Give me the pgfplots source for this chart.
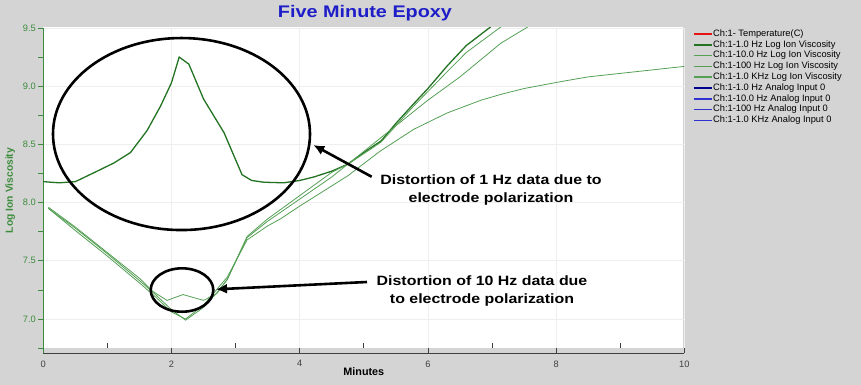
\documentclass[border=0pt]{standalone}
\usepackage{fontspec}
\setmainfont{Liberation Sans}
\newfontfamily\widefont{Liberation Sans}[FakeStretch=1.18]
\usepackage{pgfplots}
\usepackage{pgfplotstable}
\pgfplotsset{compat=1.18}
\usetikzlibrary{arrows.meta}
\definecolor{bg}{RGB}{212,212,212}
\definecolor{titleblue}{RGB}{30,30,200}
\definecolor{dkgreen}{RGB}{35,115,35}
\definecolor{ltgreen}{RGB}{85,160,85}
\definecolor{labgreen}{RGB}{60,140,60}
\definecolor{gridc}{RGB}{238,238,238}
\definecolor{dkblue}{RGB}{0,0,140}
\definecolor{ltblue}{RGB}{50,50,210}
\definecolor{legred}{RGB}{230,20,20}

\pgfplotstableread{
x y
0.00 8.18
0.25 8.17
0.50 8.18
0.84 8.27
1.10 8.34
1.36 8.43
1.62 8.62
1.83 8.83
2.00 9.03
2.12 9.25
2.27 9.19
2.50 8.89
2.82 8.60
3.10 8.24
3.25 8.19
3.44 8.175
3.75 8.17
4.00 8.19
4.22 8.22
4.50 8.27
4.75 8.33
5.00 8.43
5.27 8.53
5.50 8.68
5.78 8.85
6.00 8.98
6.31 9.18
6.60 9.35
6.98 9.51
7.20 9.65
}\onehz

\pgfplotstableread{
x y
0.08 7.96
0.50 7.79
1.00 7.57
1.50 7.35
1.70 7.24
1.93 7.16
2.18 7.21
2.50 7.16
2.71 7.22
2.87 7.34
3.18 7.71
3.50 7.86
4.00 8.06
4.50 8.26
4.75 8.33
5.00 8.42
5.27 8.52
5.78 8.83
6.31 9.13
6.60 9.29
7.14 9.51
7.40 9.65
}\tenhz

\pgfplotstableread{
x y
0.08 7.95
0.50 7.78
1.00 7.56
1.50 7.33
1.75 7.21
2.00 7.08
2.22 6.99
2.50 7.10
2.70 7.22
2.87 7.34
3.18 7.70
3.50 7.84
4.00 8.03
4.50 8.22
5.00 8.44
5.50 8.66
6.00 8.88
6.50 9.08
7.14 9.37
7.56 9.51
7.80 9.60
}\hundredhz

\pgfplotstableread{
x y
0.08 7.95
0.50 7.76
1.00 7.54
1.50 7.31
1.75 7.19
2.00 7.06
2.22 7.00
2.50 7.12
2.70 7.25
2.87 7.36
3.18 7.68
3.50 7.80
3.70 7.86
4.00 7.97
4.75 8.23
5.25 8.44
5.78 8.63
6.30 8.77
6.83 8.88
7.14 8.93
7.50 8.98
8.08 9.04
8.50 9.08
9.00 9.11
9.50 9.14
10.00 9.17
}\onekhz

\begin{document}
\begin{tikzpicture}
\fill[bg] (0,0) rectangle (861pt,385pt);
\useasboundingbox (0,0) rectangle (861pt,385pt);
\fill[white] (43pt,37pt) rectangle (683pt,358pt);
\node[font=\fontsize{16.8}{18}\widefont\bfseries, text=titleblue] at (365pt,371.5pt) {Five Minute Epoxy};
\begin{axis}[
  at={(43.3pt,32pt)}, anchor=south west,
  scale only axis, width=641pt, height=325pt,
  xmin=0, xmax=10, ymin=6.708, ymax=9.5,
  axis x line*=bottom, axis y line*=left,
  axis line style={-},
  x axis line style={draw=black!75, line width=0.9pt},
  y axis line style={draw=labgreen, line width=0.9pt},
  xtick={0,2,4,6,8,10}, minor xtick={1,3,5,7,9},
  ytick={7.0,7.5,8.0,8.5,9.0,9.5}, minor ytick={6.75,7.25,7.75,8.25,8.75,9.25},
  tick align=outside,
  major tick length=5pt, minor tick length=5pt,
  x tick style={draw=black!75, line width=0.8pt, yshift=5pt},
  minor x tick style={draw=black!75, line width=0.8pt, yshift=5pt},
  y tick style={draw=labgreen, line width=0.8pt},
  grid=major, major grid style={draw=gridc, line width=0.8pt},
  /pgf/number format/assume math mode=true,
  yticklabel style={font=\fontsize{9.3}{10}\selectfont, text=labgreen, /pgf/number format/fixed, /pgf/number format/fixed zerofill, /pgf/number format/precision=1, xshift=1pt},
  xticklabel style={font=\fontsize{9.3}{10}\selectfont, text=black!75, yshift=1pt},
  xlabel={Minutes}, xlabel style={font=\fontsize{10.8}{11}\selectfont\bfseries, yshift=6pt},
  ylabel={Log Ion Viscosity}, ylabel style={font=\fontsize{10.3}{11}\selectfont\bfseries, text=labgreen, yshift=1pt},
  clip mode=individual,
  legend style={at={(axis description cs:1.0125,0.997)}, anchor=north west, draw=none, fill=none,
    font=\fontsize{9.3}{9.5}\selectfont, row sep=1.2pt, inner sep=0pt,
    nodes={inner sep=0.6pt, text height=6.6pt, text depth=1.8pt}},
  legend cell align=left,
  legend image code/.code={\draw[#1] (0pt,0pt) -- (18pt,0pt);},
]
\addplot[dkgreen, line width=1.3pt, forget plot] table[x=x,y=y] {\onehz};
\addplot[ltgreen, line width=0.8pt, forget plot] table[x=x,y=y] {\tenhz};
\addplot[ltgreen, line width=0.8pt, forget plot] table[x=x,y=y] {\hundredhz};
\addplot[ltgreen, line width=0.8pt, forget plot] table[x=x,y=y] {\onekhz};

\addlegendimage{draw=legred, line width=1.6pt}\addlegendentry{Ch:1- Temperature(C)}
\addlegendimage{draw=dkgreen, line width=2pt}\addlegendentry{Ch:1-1.0 Hz Log Ion Viscosity}
\addlegendimage{draw=ltgreen, line width=1.5pt}\addlegendentry{Ch:1-10.0 Hz Log Ion Viscosity}
\addlegendimage{draw=ltgreen, line width=1.5pt}\addlegendentry{Ch:1-100 Hz Log Ion Viscosity}
\addlegendimage{draw=ltgreen, line width=1.5pt}\addlegendentry{Ch:1-1.0 KHz Log Ion Viscosity}
\addlegendimage{draw=dkblue, line width=2pt}\addlegendentry{Ch:1-1.0 Hz Analog Input 0}
\addlegendimage{draw=ltblue, line width=1.5pt}\addlegendentry{Ch:1-10.0 Hz Analog Input 0}
\addlegendimage{draw=ltblue, line width=1.5pt}\addlegendentry{Ch:1-100 Hz Analog Input 0}
\addlegendimage{draw=ltblue, line width=1.5pt}\addlegendentry{Ch:1-1.0 KHz Analog Input 0}

\draw[black, line width=2.6pt] (axis cs:2.156,8.589) ellipse [x radius=128.5pt, y radius=96pt];
\draw[black, line width=2.6pt] (axis cs:2.164,7.249) ellipse [x radius=31.3pt, y radius=21.7pt];
\draw[black, line width=2.6pt, -{Latex[length=11pt,width=10pt]}] (axis cs:5.123,8.222) -- (axis cs:4.212,8.495);
\draw[black, line width=2.6pt, -{Latex[length=11pt,width=10pt]}] (axis cs:5.05,7.318) -- (axis cs:2.694,7.255);
\node[font=\fontsize{13.5}{18.5}\widefont\bfseries, align=center] at (axis cs:6.984,8.108) {Distortion of 1 Hz data due to\\electrode polarization};
\node[font=\fontsize{13.5}{18.5}\widefont\bfseries, align=center] at (axis cs:6.844,7.24) {Distortion of 10 Hz data due\\to electrode polarization};
\end{axis}
\end{tikzpicture}
\end{document}
